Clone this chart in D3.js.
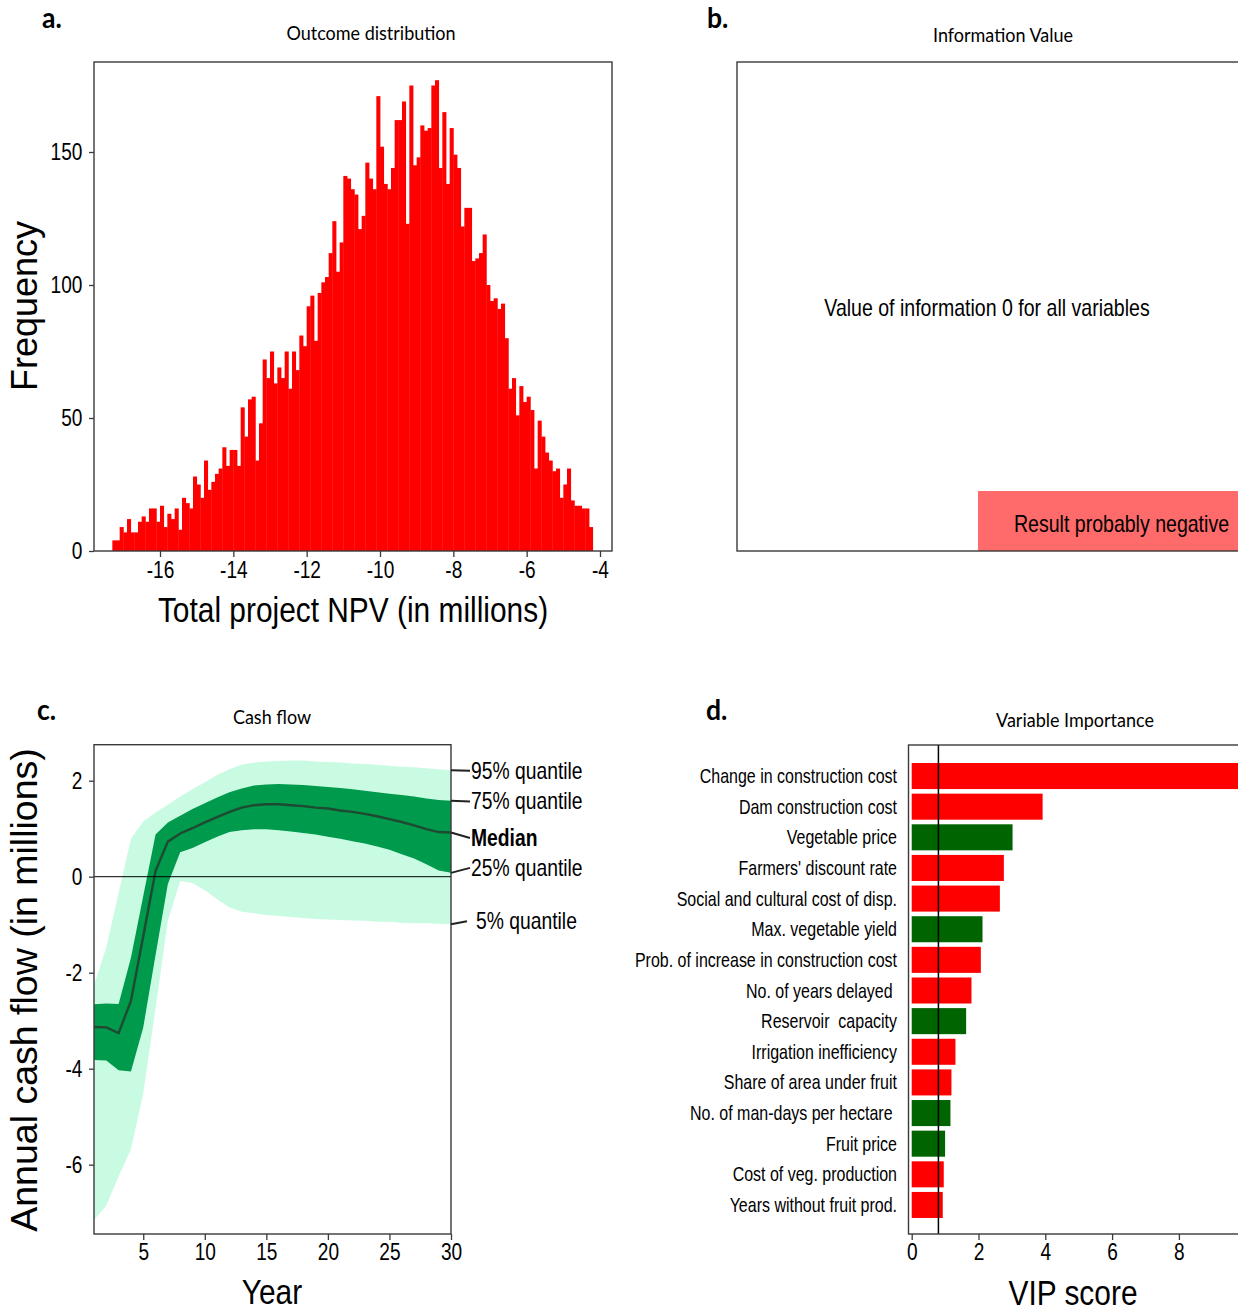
<!DOCTYPE html>
<html>
<head>
<meta charset="utf-8">
<script src="https://cdn.jsdelivr.net/npm/d3@7"></script>
<style>
  body { margin: 0; background: #fff; }
  text { font-family: "Liberation Sans", Arial, sans-serif; fill: #000; }
</style>
</head>
<body>
<div id="container"></div>
<script>
/* CONSTANTS AND GLOBALS */
const width = 1238,
  height = 1312;

/* DATA */
// a. outcome distribution, counts per 0.1 bin starting at -17.3
const binStart = -17.3, binWidth = 0.1;
const npvCounts = [4,4,9,7,12,7,7,11,13,11,
  16,16,11,17,9,14,12,16,8,20,
  18,16,28,25,20,34,23,26,29,31,
  39,32,38,38,32,54,43,57,58,34,
  48,72,65,75,63,69,65,75,61,75,
  68,81,77,92,96,79,97,101,103,112,
  124,105,116,141,140,136,134,121,126,146,
  140,136,171,152,138,136,144,162,162,169,
  123,175,145,148,160,158,159,175,177,144,
  165,138,159,149,144,122,129,129,109,110,
  112,119,100,94,95,91,93,80,61,65,
  51,62,56,58,53,31,49,43,37,34,
  30,31,20,25,31,19,17,17,16,16,
  9];
const npvTicks = [-16, -14, -12, -10, -8, -6, -4];
const freqTicks = [0, 50, 100, 150];

// b. information value
const evpiMessage = "Value of information 0 for all variables";
const evpiResult = "Result probably negative";

// c. cash flow quantiles per year
const years = [1,2,3,4,5,6,7,8,9,10,11,12,13,14,15,16,17,18,19,20,21,22,23,24,25,26,27,28,29,30];
const q95 = [-2.26,-1.47,-0.34,0.79,1.15,1.34,1.50,1.67,1.82,1.97,2.12,2.24,2.33,2.38,2.40,2.41,2.42,2.42,2.40,2.39,2.38,2.36,2.35,2.33,2.31,2.29,2.28,2.26,2.24,2.22];
const q75 = [-2.66,-2.64,-2.65,-1.69,-0.40,0.88,1.13,1.27,1.41,1.53,1.65,1.76,1.84,1.90,1.92,1.93,1.92,1.91,1.89,1.87,1.85,1.82,1.79,1.76,1.73,1.70,1.67,1.63,1.60,1.58];
const q50 = [-3.13,-3.14,-3.26,-2.59,-1.24,0.12,0.73,0.90,1.01,1.13,1.24,1.35,1.44,1.49,1.51,1.51,1.49,1.47,1.44,1.42,1.38,1.35,1.31,1.26,1.20,1.14,1.07,0.99,0.93,0.92];
const q25 = [-3.82,-3.83,-4.03,-4.06,-3.14,-1.63,-0.15,0.51,0.60,0.72,0.83,0.93,0.97,0.99,0.99,0.97,0.94,0.91,0.88,0.83,0.79,0.74,0.69,0.63,0.56,0.47,0.38,0.26,0.13,0.08];
const q05 = [-7.15,-6.85,-6.24,-5.68,-4.51,-2.74,-0.92,-0.09,-0.13,-0.28,-0.47,-0.64,-0.73,-0.76,-0.80,-0.82,-0.84,-0.86,-0.88,-0.89,-0.90,-0.91,-0.92,-0.94,-0.94,-0.96,-0.97,-0.97,-0.98,-0.99];
const quantileLabels = ["95% quantile", "75% quantile", "Median", "25% quantile", "5% quantile"];
const yearTicks = [5, 10, 15, 20, 25, 30];
const cashTicks = [-6, -4, -2, 0, 2];

// d. variable importance
const vipVars = ["Change in construction cost", "Dam construction cost", "Vegetable price",
  "Farmers' discount rate", "Social and cultural cost of disp.", "Max. vegetable yield",
  "Prob. of increase in construction cost", "No. of years delayed ", "Reservoir  capacity",
  "Irrigation inefficiency", "Share of area under fruit", "No. of man-days per hectare ",
  "Fruit price", "Cost of veg. production", "Years without fruit prod."];
const vipScores = [10.5, 3.92, 3.02, 2.76, 2.64, 2.12, 2.07, 1.79, 1.63, 1.31, 1.19, 1.16, 1.00, 0.96, 0.93];
const vipPositive = [false, false, true, false, false, true, false, false, true, false, false, true, true, false, false];
const vipThreshold = 0.8;
const vipTicks = [0, 2, 4, 6, 8];

/* HELPERS */
// horizontal text in the figure is condensed, so squeeze it along x
function label(g, x, y, s, size, opts = {}) {
  return g.append("text")
    .attr("transform", `translate(${x},${y}) scale(${opts.sx || 0.83},1)`)
    .attr("text-anchor", opts.anchor || "middle")
    .attr("font-size", size)
    .attr("font-weight", opts.weight || "normal")
    .style("font-family", opts.family || null)
    .style("white-space", "pre")
    .text(s);
}
function title(g, x, y, s) {
  return label(g, x, y, s, 20, { sx: 0.9, family: "Lato, sans-serif" });
}
function letter(g, x, y, s) {
  return label(g, x, y, s, 28, { sx: 0.95, anchor: "start", weight: "bold", family: "Lato, sans-serif" });
}
function frame(g, x0, y0, x1, y1) {
  g.append("rect")
    .attr("x", x0).attr("y", y0)
    .attr("width", x1 - x0).attr("height", y1 - y0)
    .attr("fill", "none")
    .attr("stroke", "#3a3a3a")
    .attr("stroke-width", 1.4);
}
// plain hyphen minus, as in the original figure
const plainNum = d => String(d);
function styleAxis(g, size) {
  g.select(".domain").remove();
  g.selectAll(".tick line").attr("stroke", "#3a3a3a").attr("stroke-width", 1.3);
  g.selectAll(".tick text")
    .attr("font-size", size)
    .attr("fill", "#000")
    .style("font-family", '"Liberation Sans", Arial, sans-serif')
    .attr("transform", "scale(0.83,1)");
}

/* CREATE SVG ELEMENT */
const svg = d3.select("#container")
  .append("svg")
  .attr("width", width)
  .attr("height", height);

/* PANEL A: HISTOGRAM */
const pa = svg.append("g");
const xA = d3.scaleLinear().domain([-16, -4]).range([160, 600]);
const yA = d3.scaleLinear().domain([0, 150]).range([551, 152]);

pa.selectAll(".bin")
  .data(npvCounts)
  .join("rect")
  .attr("class", "bin")
  .attr("x", (d, i) => xA(binStart + i * binWidth))
  .attr("width", xA(binWidth) - xA(0) + 0.4)
  .attr("y", d => yA(d))
  .attr("height", d => yA(0) - yA(d))
  .attr("fill", "#ff0000");

frame(pa, 94, 62, 612, 551);

pa.append("g")
  .attr("transform", "translate(0,551)")
  .call(d3.axisBottom(xA).tickValues(npvTicks).tickSize(6).tickPadding(5).tickFormat(plainNum))
  .call(g => styleAxis(g, 23));
pa.append("g")
  .attr("transform", "translate(94,0)")
  .call(d3.axisLeft(yA).tickValues(freqTicks).tickSize(5).tickPadding(9).tickFormat(plainNum))
  .call(g => styleAxis(g, 23));

pa.append("text")
  .attr("transform", "translate(37,306) rotate(-90)")
  .attr("text-anchor", "middle")
  .attr("font-size", 36)
  .text("Frequency");
label(pa, 353, 622, "Total project NPV (in millions)", 36);
title(pa, 371, 40, "Outcome distribution");
letter(pa, 42, 28, "a.");

/* PANEL B: INFORMATION VALUE */
const pb = svg.append("g");
pb.append("rect")
  .attr("x", 978).attr("y", 491)
  .attr("width", 280).attr("height", 60)
  .attr("fill", "#ff6a6a");
frame(pb, 737, 62, 1260, 551);
label(pb, 987, 316, evpiMessage, 23, { sx: 0.85 });
label(pb, 1014, 532, evpiResult, 23, { sx: 0.85, anchor: "start" });
title(pb, 1003, 42, "Information Value");
letter(pb, 707, 28, "b.");

/* PANEL C: CASH FLOW */
const pc = svg.append("g");
const xC = d3.scaleLinear().domain([1, 30]).range([94, 451]);
const yC = d3.scaleLinear().domain([-7.444, 2.75]).range([1234, 744.7]);

const cash = years.map((yr, i) => ({ yr, q05: q05[i], q25: q25[i], q50: q50[i], q75: q75[i], q95: q95[i] }));

pc.append("path")
  .datum(cash)
  .attr("fill", "#c9fbe2")
  .attr("d", d3.area().x(d => xC(d.yr)).y0(d => yC(d.q05)).y1(d => yC(d.q95)));
pc.append("path")
  .datum(cash)
  .attr("fill", "#009a4c")
  .attr("d", d3.area().x(d => xC(d.yr)).y0(d => yC(d.q25)).y1(d => yC(d.q75)));
pc.append("path")
  .datum(cash)
  .attr("fill", "none")
  .attr("stroke", "#1d4a30")
  .attr("stroke-width", 2.4)
  .attr("d", d3.line().x(d => xC(d.yr)).y(d => yC(d.q50)));
pc.append("line")
  .attr("x1", 94).attr("x2", 451)
  .attr("y1", yC(0)).attr("y2", yC(0))
  .attr("stroke", "#000").attr("stroke-width", 1);

frame(pc, 94, 744.7, 451, 1234);

pc.append("g")
  .attr("transform", "translate(0,1234)")
  .call(d3.axisBottom(xC).tickValues(yearTicks).tickSize(6).tickPadding(4).tickFormat(plainNum))
  .call(g => styleAxis(g, 23));
pc.append("g")
  .attr("transform", "translate(94,0)")
  .call(d3.axisLeft(yC).tickValues(cashTicks).tickSize(5).tickPadding(9).tickFormat(plainNum))
  .call(g => styleAxis(g, 23));

// quantile labels at the right end of the series
const lastVals = [q95, q75, q50, q25, q05].map(a => a[a.length - 1]);
const nudge = [0.6, 0.6, 5.5, -5, -3];
const lineEnd = [470, 470, 470, 470, 467];
const textStart = [471, 471, 471, 471, 476];
lastVals.forEach((v, i) => {
  const y0 = yC(v), y1 = y0 + nudge[i];
  pc.append("line")
    .attr("x1", 451).attr("x2", lineEnd[i])
    .attr("y1", y0).attr("y2", y1)
    .attr("stroke", "#222").attr("stroke-width", 2);
  label(pc, textStart[i], y1 + 8, quantileLabels[i], 23,
    { anchor: "start", weight: quantileLabels[i] === "Median" ? "bold" : "normal", sx: 0.84 });
});

pc.append("text")
  .attr("transform", "translate(37,990) rotate(-90)")
  .attr("text-anchor", "middle")
  .attr("font-size", 37.5)
  .text("Annual cash flow (in millions)");
label(pc, 272, 1304, "Year", 36);
title(pc, 272, 724, "Cash flow");
letter(pc, 37, 720, "c.");

/* PANEL D: VARIABLE IMPORTANCE */
const pd = svg.append("g");
const xD = d3.scaleLinear().domain([0, 8]).range([911.7, 1178.9]);
const yD = d3.scaleBand().domain(vipVars).range([747.7, 1233.3]).paddingInner(0.15).paddingOuter(0.5);

pd.selectAll(".vip")
  .data(vipVars)
  .join("rect")
  .attr("class", "vip")
  .attr("x", xD(0))
  .attr("y", d => yD(d))
  .attr("height", yD.bandwidth())
  .attr("width", (d, i) => xD(vipScores[i]) - xD(0))
  .attr("fill", (d, i) => vipPositive[i] ? "#006400" : "#ff0000");

pd.append("line")
  .attr("x1", xD(vipThreshold)).attr("x2", xD(vipThreshold))
  .attr("y1", 745).attr("y2", 1234)
  .attr("stroke", "#000").attr("stroke-width", 1.5);

frame(pd, 908.5, 745, 1260, 1234);

vipVars.forEach(v => {
  label(pd, 897, yD(v) + yD.bandwidth() / 2 + 7, v, 20.5, { anchor: "end", sx: 0.78 });
});

pd.append("g")
  .attr("transform", "translate(0,1234)")
  .call(d3.axisBottom(xD).tickValues(vipTicks).tickSize(6).tickPadding(4).tickFormat(plainNum))
  .call(g => styleAxis(g, 23));

label(pd, 1073, 1305, "VIP score", 36);
title(pd, 1075, 727, "Variable Importance");
letter(pd, 706, 720, "d.");
</script>
</body>
</html>
